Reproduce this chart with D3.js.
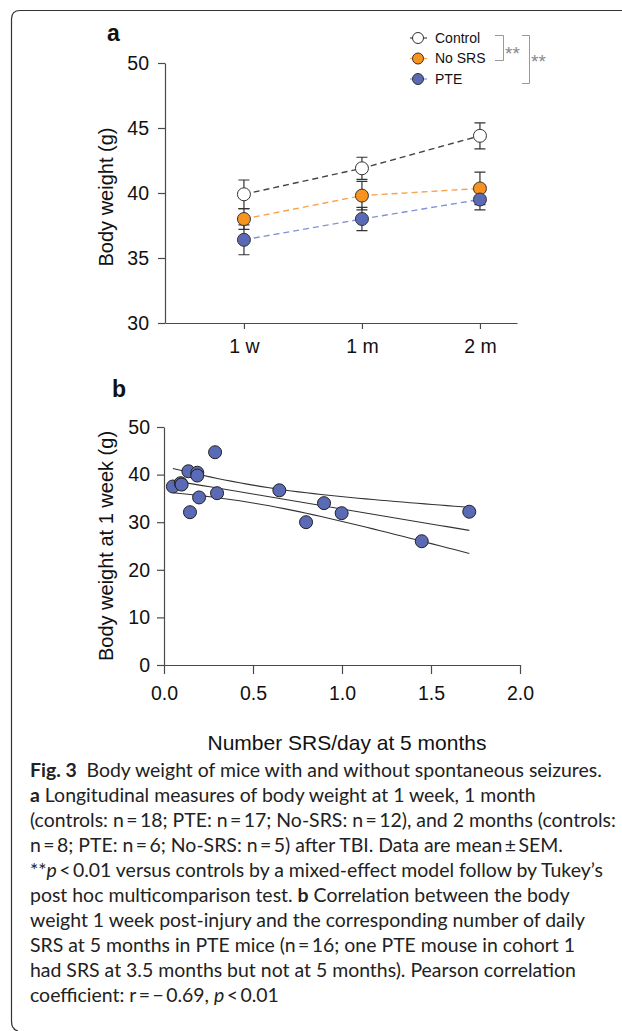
<!DOCTYPE html>
<html>
<head>
<meta charset="utf-8">
<script src="https://cdn.jsdelivr.net/npm/d3@7"></script>
<style>
  body { margin: 0; background: #fff; }
  svg { display: block; }
  .axis text { font-family: "Liberation Sans", Arial, sans-serif; font-size: 19.5px; fill: #111; }
  .axis path, .axis line { stroke: #4a4a4a; stroke-width: 1.2px; }
  .lbl { font-family: "Liberation Sans", Arial, sans-serif; fill: #111; }
  .cap { font-family: Lato, "Open Sans", sans-serif; fill: #222; }
</style>
</head>
<body>
<svg id="fig" width="622" height="1031"></svg>
<script>
// ---- panel a: body weight over time (mean, SEM)
var timepoints = ["1 w", "1 m", "2 m"];
var groups = ["Control", "No SRS", "PTE"];
var controlMean = [39.9, 41.9, 44.4];
var controlSem  = [1.1, 0.85, 1.0];
var noSrsMean   = [38.0, 39.8, 40.35];
var noSrsSem    = [0.8, 1.1, 1.25];
var pteMean     = [36.4, 38.0, 39.5];
var pteSem      = [1.15, 0.9, 0.8];
var weightTicksA = [30, 35, 40, 45, 50];

// ---- panel b: body weight at 1 week vs SRS/day at 5 months (PTE mice)
var srsPerDay = [0.05, 0.094, 0.099, 0.137, 0.146, 0.187, 0.187, 0.197, 0.287, 0.298, 0.648, 0.798, 0.899, 0.998, 1.448, 1.715];
var weight1w  = [37.5, 38.2, 37.9, 40.7, 32.1, 40.4, 39.8, 35.2, 44.7, 36.1, 36.7, 30.0, 34.0, 31.9, 26.0, 32.2];
var srsTicks = [0, 0.5, 1, 1.5, 2];
var weightTicksB = [0, 10, 20, 30, 40, 50];
var tCrit = 2.145; // t(0.975, df = 14) for the 95% band

var colors = { "Control": "#ffffff", "No SRS": "#f7931e", "PTE": "#5a6ab5" };
var lineColors = { "Control": "#444444", "No SRS": "#f6a350", "PTE": "#8592d2" };

var series = [
  { name: "Control", mean: controlMean, sem: controlSem },
  { name: "No SRS", mean: noSrsMean, sem: noSrsSem },
  { name: "PTE", mean: pteMean, sem: pteSem }
];

var svg = d3.select("#fig");

// frame around figure + caption
svg.append("path")
  .attr("d", "M622,10.5 L20,10.5 Q11.5,10.5 11.5,19 L11.5,1021 Q11.5,1029.5 18,1031")
  .attr("fill", "none").attr("stroke", "#333").attr("stroke-width", 1.2);

// ================= panel a =================
var ya = d3.scaleLinear().domain([30, 50]).range([323, 63]);
// index scale so the axis line runs past the first/last time point
var xa = d3.scaleLinear().domain([-0.669, 2.314]).range([165, 517]);

var ga = svg.append("g");

ga.append("g").attr("class", "axis")
  .attr("transform", "translate(165,0)")
  .call(d3.axisLeft(ya).tickValues(weightTicksA).tickSize(7).tickSizeOuter(0).tickPadding(9));

ga.append("g").attr("class", "axis")
  .attr("transform", "translate(0,323)")
  .call(d3.axisBottom(xa).tickValues([0, 1, 2]).tickFormat(function(i){ return timepoints[i]; })
    .tickSize(6).tickSizeOuter(0).tickPadding(10));

ga.append("text").attr("class", "lbl")
  .attr("transform", "translate(113,197) rotate(-90)")
  .attr("text-anchor", "middle").style("font-size", "20px")
  .text("Body weight (g)");

ga.append("text").attr("class", "lbl")
  .attr("x", 107).attr("y", 41)
  .style("font-size", "23px").style("font-weight", "bold")
  .text("a");

var line = d3.line()
  .x(function(d, i){ return xa(i); })
  .y(function(d){ return ya(d); });

// dashed connecting lines
ga.selectAll(".trend").data(series).enter().append("path")
  .attr("d", function(d){ return line(d.mean); })
  .attr("fill", "none")
  .attr("stroke", function(d){ return lineColors[d.name]; })
  .attr("stroke-width", 1.4)
  .attr("stroke-dasharray", "6,4");

// error bars
series.forEach(function(s){
  s.mean.forEach(function(m, i){
    var x = xa(i), y1 = ya(m - s.sem[i]), y2 = ya(m + s.sem[i]);
    ga.append("path")
      .attr("d", "M" + x + "," + y1 + "V" + y2 + "M" + (x - 5.5) + "," + y1 + "H" + (x + 5.5) + "M" + (x - 5.5) + "," + y2 + "H" + (x + 5.5))
      .attr("fill", "none").attr("stroke", "#333").attr("stroke-width", 1.2);
  });
});

// markers
series.forEach(function(s){
  ga.selectAll(null).data(s.mean).enter().append("circle")
    .attr("cx", function(d, i){ return xa(i); })
    .attr("cy", function(d){ return ya(d); })
    .attr("r", 6.5)
    .attr("fill", colors[s.name])
    .attr("stroke", "#333").attr("stroke-width", 1);
});

// legend
var legY = d3.scalePoint().domain(groups).range([38, 79]);
var leg = ga.selectAll(".leg").data(groups).enter().append("g")
  .attr("transform", function(d){ return "translate(418," + legY(d) + ")"; });
leg.append("line").attr("x1", -8).attr("x2", 9)
  .attr("stroke", function(d){ return lineColors[d]; }).attr("stroke-width", 1.2);
leg.append("circle").attr("r", 5.5)
  .attr("fill", function(d){ return colors[d]; })
  .attr("stroke", "#333").attr("stroke-width", 1);
leg.append("text").attr("class", "lbl")
  .attr("x", 17).attr("dy", "0.35em").style("font-size", "14px")
  .text(function(d){ return d; });

// significance brackets
ga.append("path").attr("d", "M495,35.5 H503.5 V60.5 H495")
  .attr("fill", "none").attr("stroke", "#999").attr("stroke-width", 1);
ga.append("path").attr("d", "M522,35.5 H529.5 V83.5 H522")
  .attr("fill", "none").attr("stroke", "#999").attr("stroke-width", 1);
ga.append("text").attr("class", "lbl").attr("x", 505).attr("y", 60)
  .style("font-size", "19px").style("fill", "#888").text("**");
ga.append("text").attr("class", "lbl").attr("x", 531).attr("y", 68)
  .style("font-size", "19px").style("fill", "#888").text("**");

// ================= panel b =================
var xb = d3.scaleLinear().domain([0, 2]).range([164, 520]);
var yb = d3.scaleLinear().domain([0, 50]).range([665, 427]);

var gb = svg.append("g");

gb.append("g").attr("class", "axis")
  .attr("transform", "translate(164,0)")
  .call(d3.axisLeft(yb).tickValues(weightTicksB).tickSize(7).tickSizeOuter(0).tickPadding(7));

gb.append("g").attr("class", "axis")
  .attr("transform", "translate(0,665)")
  .call(d3.axisBottom(xb).tickValues(srsTicks).tickFormat(d3.format(".1f"))
    .tickSize(9).tickSizeOuter(0).tickPadding(12));

gb.append("text").attr("class", "lbl")
  .attr("transform", "translate(113,546) rotate(-90)")
  .attr("text-anchor", "middle").style("font-size", "20px")
  .text("Body weight at 1 week (g)");

gb.append("text").attr("class", "lbl")
  .attr("x", 347).attr("y", 750)
  .attr("text-anchor", "middle").style("font-size", "21px")
  .text("Number SRS/day at 5 months");

gb.append("text").attr("class", "lbl")
  .attr("x", 112).attr("y", 397)
  .style("font-size", "23px").style("font-weight", "bold")
  .text("b");

// linear fit with 95% confidence band
var pts = srsPerDay.map(function(x, i){ return { x: x, y: weight1w[i] }; });
var n = pts.length;
var mx = d3.mean(pts, function(d){ return d.x; });
var my = d3.mean(pts, function(d){ return d.y; });
var sxx = d3.sum(pts, function(d){ return (d.x - mx) * (d.x - mx); });
var sxy = d3.sum(pts, function(d){ return (d.x - mx) * (d.y - my); });
var slope = sxy / sxx, icpt = my - slope * mx;
var sres = Math.sqrt(d3.sum(pts, function(d){ var r = d.y - (icpt + slope * d.x); return r * r; }) / (n - 2));
var xs = d3.range(0, 41).map(function(k){
  var ext = d3.extent(srsPerDay);
  return ext[0] + (ext[1] - ext[0]) * k / 40;
});
function fitAt(x, sign){
  var h = tCrit * sres * Math.sqrt(1 / n + (x - mx) * (x - mx) / sxx);
  return icpt + slope * x + sign * h;
}
var fitLine = d3.line().x(function(d){ return xb(d[0]); }).y(function(d){ return yb(d[1]); });
[-1, 0, 1].forEach(function(sign){
  gb.append("path")
    .attr("d", fitLine(xs.map(function(x){ return [x, fitAt(x, sign)]; })))
    .attr("fill", "none").attr("stroke", "#333").attr("stroke-width", 1.1);
});

gb.selectAll(".dot").data(pts).enter().append("circle")
  .attr("cx", function(d){ return xb(d.x); })
  .attr("cy", function(d){ return yb(d.y); })
  .attr("r", 6.5)
  .attr("fill", colors["PTE"])
  .attr("stroke", "#222").attr("stroke-width", 1);

// ================= caption =================
var S = "\u2009";
var captionLines = [
  [["b", "Fig.\u00a03"], ["n", "\u2002Body weight of mice with and without spontaneous seizures."]],
  [["b", "a"], ["n", " Longitudinal measures of body weight at 1 week, 1 month"]],
  [["n", "(controls: n" + S + "=" + S + "18; PTE: n" + S + "=" + S + "17; No-SRS: n" + S + "=" + S + "12), and 2 months (controls:"]],
  [["n", "n" + S + "=" + S + "8; PTE: n" + S + "=" + S + "6; No-SRS: n" + S + "=" + S + "5) after TBI. Data are mean" + S + "\u00b1" + S + "SEM."]],
  [["n", "**"], ["i", "p"], ["n", S + "<" + S + "0.01 versus controls by a mixed-effect model follow by Tukey\u2019s"]],
  [["n", "post hoc multicomparison test. "], ["b", "b"], ["n", " Correlation between the body"]],
  [["n", "weight 1 week post-injury and the corresponding number of daily"]],
  [["n", "SRS at 5 months in PTE mice (n" + S + "=" + S + "16; one PTE mouse in cohort 1"]],
  [["n", "had SRS at 3.5 months but not at 5 months). Pearson correlation"]],
  [["n", "coefficient: r" + S + "=" + S + "\u2212" + S + "0.69, "], ["i", "p"], ["n", S + "<" + S + "0.01"]]
];

var cap = svg.append("g");
var capText = cap.selectAll(".cap").data(captionLines).enter().append("text")
  .attr("class", "cap")
  .attr("x", 30)
  .attr("y", function(d, i){ return 777 + i * 25; })
  .style("font-size", "17px");
capText.selectAll("tspan").data(function(d){ return d; }).enter().append("tspan")
  .style("font-weight", function(d){ return d[0] === "b" ? "bold" : null; })
  .style("font-style", function(d){ return d[0] === "i" ? "italic" : null; })
  .text(function(d){ return d[1]; });

// fit caption font size so the first line spans like the original
var w0 = capText.node().getComputedTextLength();
var fs = 17 * 572 / w0;
capText.style("font-size", fs + "px");
</script>
</body>
</html>
